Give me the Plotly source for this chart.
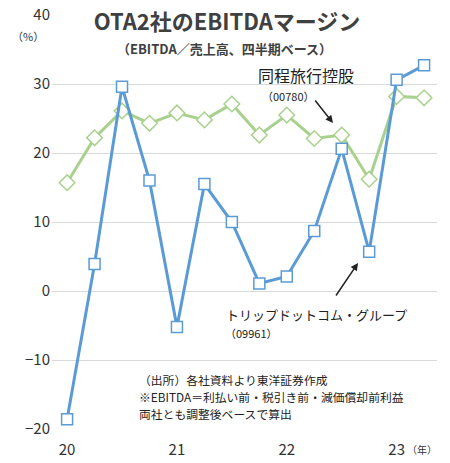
import plotly.graph_objects as go

quarters = list(range(14))
year_ticks = [0, 4, 8, 12]
year_labels = ["20", "21", "22", "23"]

trip_com = [-18.6, 3.9, 29.6, 16.0, -5.2, 15.5, 10.0, 1.1, 2.1, 8.7, 20.6, 5.7, 30.6, 32.7]
tongcheng = [15.7, 22.2, 26.1, 24.3, 25.8, 24.8, 27.1, 22.6, 25.5, 22.1, 22.6, 16.2, 28.2, 28.0]

font = "Noto Sans CJK JP"
blue = "#5b9bd5"
green = "#a9d18e"

W, H = 450, 463
PLOT_L, PLOT_R, PLOT_T, PLOT_B = 52, 437, 15, 429

fig = go.Figure()
fig.add_trace(go.Scatter(
    x=quarters, y=tongcheng, mode="lines+markers",
    line=dict(color=green, width=3),
    marker=dict(symbol="diamond", size=12, color="white", line=dict(color=green, width=1.5)),
))
fig.add_trace(go.Scatter(
    x=quarters, y=trip_com, mode="lines+markers",
    line=dict(color=blue, width=3),
    marker=dict(symbol="square", size=11, color="white", line=dict(color=blue, width=1.5)),
))

fig.update_layout(
    width=W, height=H,
    margin=dict(l=PLOT_L, r=W - PLOT_R, t=PLOT_T, b=H - PLOT_B),
    paper_bgcolor="white", plot_bgcolor="white",
    showlegend=False,
    font=dict(family=font, color="#333333"),
    xaxis=dict(range=[-0.55, 13.47], tickvals=year_ticks, ticktext=year_labels,
               showgrid=False, zeroline=False, showline=False, automargin=False,
               ticklabelstandoff=10, tickfont=dict(size=15, color="#333333")),
    yaxis=dict(range=[-20, 40], dtick=10, showgrid=True, gridcolor="#d9d9d9",
               zeroline=False, showline=False, automargin=False, ticklabelstandoff=1,
               ticklabeloverflow="allow", tickfont=dict(size=15, color="#333333")),
)


def px_x(x):
    return (x - PLOT_L) / (PLOT_R - PLOT_L)


def px_y(y):
    return (PLOT_B - y) / (PLOT_B - PLOT_T)


ann = [
    dict(x=227, y=20, text="<b>OTA2社のEBITDAマージン</b>", size=22, color="#404040", bg="white", w=310),
    dict(x=224, y=48, text="<b>（EBITDA／売上高、四半期ベース）</b>", size=13, color="#404040"),
    dict(x=306, y=75, text="同程旅行控股", size=16, color="#222222"),
    dict(x=288, y=96, text="（00780）", size=11, color="#222222"),
    dict(x=316, y=314, text="トリップドットコム・グループ", size=13, color="#222222"),
    dict(x=252, y=333, text="（09961）", size=11, color="#222222"),
    dict(x=28, y=36, text="（%）", size=11, color="#333333"),
    dict(x=422, y=449, text="（年）", size=10, color="#333333"),
]
for a in ann:
    fig.add_annotation(xref="paper", yref="paper", x=px_x(a["x"]), y=px_y(a["y"]),
                       text=a["text"], showarrow=False, xanchor="center", yanchor="middle",
                       font=dict(size=a["size"], color=a["color"], family=font),
                       bgcolor=a.get("bg"), width=a.get("w"))

note_lines = ["（出所）各社資料より東洋証券作成",
              "※EBITDA＝利払い前・税引き前・減価償却前利益",
              "両社とも調整後ベースで算出"]
for i, line in enumerate(note_lines):
    fig.add_annotation(xref="paper", yref="paper", x=px_x(137), y=px_y(379.5 + 17 * i),
                       text=line, showarrow=False, xanchor="left", yanchor="middle",
                       font=dict(size=11.8, color="#222222", family=font))

# arrows pointing to the series
for x0, y0, x1, y1 in [(314, 99, 333, 123), (335, 297, 358, 263)]:
    fig.add_annotation(xref="paper", yref="paper", axref="pixel", ayref="pixel",
                       x=px_x(x1), y=px_y(y1), ax=x0 - x1, ay=y0 - y1, text="",
                       showarrow=True, arrowhead=2, arrowsize=1, arrowwidth=1.5,
                       arrowcolor="#222222")

# drop the default 8px body margin so the 450x463 figure fills the window
fig.write_html("out.html", config={"displayModeBar": False},
               post_script="document.body.style.margin='0';")
